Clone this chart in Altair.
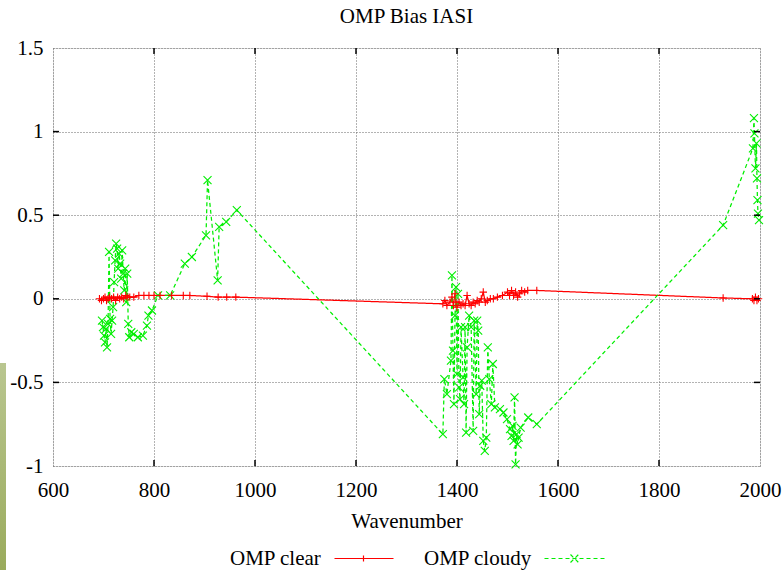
import altair as alt
import pandas as pd

# ---------------- data ----------------
clear_wn = [692, 696, 700, 703, 706, 709, 712, 716, 720, 724, 728, 732, 736, 740, 744, 748,
            752, 760, 770, 780, 790, 800, 812, 835, 858, 871, 905, 927, 944, 962,
            1372, 1376, 1380, 1386, 1390, 1393, 1396, 1398, 1400, 1404, 1408, 1412, 1416,
            1420, 1424, 1428, 1432, 1436, 1440, 1444, 1448, 1452, 1456, 1460, 1466, 1472,
            1480, 1490, 1500, 1504, 1508, 1512, 1516, 1520, 1524, 1528, 1534, 1540, 1558,
            1927, 1985, 1988, 1991, 1994, 1997]
clear_val = [0.00, -0.01, 0.00, 0.01, -0.01, 0.00, 0.01, 0.00, 0.01, -0.01, 0.01, 0.00, 0.01,
             0.00, 0.02, 0.01, 0.01, 0.01, 0.02, 0.02, 0.02, 0.02, 0.02, 0.02, 0.02, 0.02,
             0.015, 0.01, 0.01, 0.01,
             -0.03, -0.01, -0.04, -0.02, 0.01, -0.04, 0.03, -0.02, -0.05, -0.02, -0.04, -0.03,
             -0.04, 0.02, -0.03, -0.04, -0.02, -0.03, -0.01, -0.02, 0.00, 0.04, -0.02, -0.01,
             0.00, 0.00, 0.01, 0.02, 0.04, 0.02, 0.05, 0.02, 0.04, 0.01, 0.03, 0.05, 0.04,
             0.05, 0.05,
             0.005, 0.00, -0.01, 0.01, -0.01, 0.00]

cloudy_wn = [697, 699, 701, 703, 705, 707, 709, 711, 713, 715, 717, 719, 721, 723, 725, 727,
             729, 731, 733, 735, 737, 739, 741, 743, 745, 747, 749, 751, 755, 760, 768, 778,
             786, 789, 796, 808, 832, 861, 875, 903, 906, 926, 929, 943, 964,
             1372, 1375, 1380, 1388, 1390, 1392, 1394, 1396, 1398, 1400, 1402, 1404, 1406,
             1408, 1412, 1414, 1416, 1418, 1420, 1424, 1428, 1432, 1434, 1438, 1440, 1442,
             1444, 1446, 1449, 1452, 1455, 1458, 1461, 1464, 1468, 1471, 1475, 1485, 1492,
             1499, 1505, 1508, 1510, 1512, 1514, 1516, 1518, 1520, 1522, 1526, 1541, 1558,
             1927, 1986, 1988, 1989, 1991, 1993, 1994, 1995, 1996, 1998]
cloudy_val = [-0.13, -0.17, -0.22, -0.26, -0.18, -0.29, -0.15, 0.28, -0.12, -0.21, -0.13,
              -0.05, 0.10, 0.23, 0.33, 0.30, 0.18, 0.27, 0.21, 0.12, 0.29, 0.15, 0.05, 0.18,
              -0.02, 0.15, -0.15, -0.23, -0.20, -0.21, -0.23, -0.22, -0.16, -0.10, -0.07,
              0.02, 0.02, 0.21, 0.25, 0.38, 0.71, 0.11, 0.43, 0.46, 0.53,
              -0.81, -0.48, -0.57, -0.37, 0.14, -0.31, -0.63, -0.10, 0.07, -0.45, 0.03,
              -0.53, -0.60, -0.17, -0.47, -0.63, -0.17, -0.80, -0.29, -0.10, -0.17, -0.79,
              -0.13, -0.57, -0.13, -0.19, -0.69, -0.52, -0.49, -0.85, -0.91, -0.83, -0.29,
              -0.48, -0.63, -0.39, -0.65, -0.66, -0.68, -0.72, -0.78, -0.82, -0.76, -0.85,
              -0.59, -0.99, -0.81, -0.87, -0.83, -0.77, -0.71, -0.75,
              0.44, 0.90, 1.08, 0.99, 0.78, 0.93, 0.72, 0.59, 0.51, 0.47]

x_ticks = [600, 800, 1000, 1200, 1400, 1600, 1800, 2000]
y_ticks = [-1, -0.5, 0, 0.5, 1, 1.5]
series_names = ["OMP clear", "OMP cloudy"]
series_colors = ["#ff0000", "#00ee00"]
series_dashes = [[1, 0], [4, 3]]

# ---------------- build tables ----------------
df = pd.concat([
    pd.DataFrame({"wn": clear_wn, "val": clear_val, "series": series_names[0]}),
    pd.DataFrame({"wn": cloudy_wn, "val": cloudy_val, "series": series_names[1]}),
], ignore_index=True)
xtick_df = pd.DataFrame({"wn": x_ticks[1:-1]})
ytick_df = pd.DataFrame({"val": y_ticks[1:-1]})

W, H = 707, 418
FONT = "Liberation Serif"
FS = 21
TICK = 6

plus_path = "M-1,0L1,0M0,-1L0,1"
cross_path = "M-1,-1L1,1M-1,1L1,-1"

# legend samples drawn to the right of their labels (gnuplot style: text, then sample)
legend_common = dict(title=None, orient="none", direction="vertical", padding=0,
                     labelFont=FONT, labelFontSize=FS, labelColor="black",
                     labelOffset=0, symbolSize=4, symbolStrokeWidth=1.2,
                     symbolFillColor="transparent", symbolOpacity=1, legendY=500)
legend_clear = alt.Legend(values=[series_names[0]], legendX=156,
                          symbolType="M115,0L174,0M144,-3L144,3",
                          symbolStrokeColor=series_colors[0], symbolDash=[1, 0],
                          **legend_common)
legend_cloudy = alt.Legend(values=[series_names[1]], legendX=350,
                           symbolType="M131,0L191,0M157,-4L165,4M157,4L165,-4",
                           symbolStrokeColor=series_colors[1],
                           **legend_common)

color = alt.Color("series:N", scale=alt.Scale(domain=series_names, range=series_colors),
                  legend=legend_clear)
dash = alt.StrokeDash("series:N",
                      scale=alt.Scale(domain=series_names[::-1], range=series_dashes[::-1]),
                      legend=legend_cloudy)

xenc = alt.X("wn:Q", title="Wavenumber",
             scale=alt.Scale(domain=[600, 2000], nice=False, zero=False),
             axis=alt.Axis(values=x_ticks, format="d", labelFont=FONT, labelFontSize=FS,
                           labelColor="black", labelPadding=13, ticks=False, tickSize=0,
                           domain=False, grid=True, gridColor="#666", gridDash=[1, 2],
                           gridWidth=1, titleFont=FONT, titleFontSize=FS,
                           titleFontWeight="normal", titleColor="black", titlePadding=10,
                           labelFlush=False))
yenc = alt.Y("val:Q", title=None,
             scale=alt.Scale(domain=[-1, 1.5], nice=False, zero=False),
             axis=alt.Axis(values=y_ticks, labelExpr="'' + datum.value", labelFont=FONT,
                           labelFontSize=FS, labelColor="black", labelPadding=10,
                           ticks=False, tickSize=0, domain=False, grid=True,
                           gridColor="#666", gridDash=[1, 2], gridWidth=1,
                           labelFlush=False))

base = alt.Chart(df)
lines = base.mark_line(strokeWidth=1.25).encode(
    x=xenc, y=yenc, color=color, strokeDash=dash, detail="series:N")
clear_pts = base.transform_filter(alt.datum.series == series_names[0]).mark_point(
    shape=plus_path, size=56, filled=False, strokeWidth=1.1, opacity=1).encode(
    x=xenc, y=yenc, color=color)
cloudy_pts = base.transform_filter(alt.datum.series == series_names[1]).mark_point(
    shape=cross_path, size=64, filled=False, strokeWidth=1.1, opacity=1).encode(
    x=xenc, y=yenc, color=color)

xt_bottom = alt.Chart(xtick_df).mark_rule(color="black", strokeWidth=1.5).encode(
    x=xenc, y=alt.value(H), y2=alt.value(H - TICK))
xt_top = alt.Chart(xtick_df).mark_rule(color="black", strokeWidth=1.5).encode(
    x=xenc, y=alt.value(0), y2=alt.value(TICK))
yt_left = alt.Chart(ytick_df).mark_rule(color="black", strokeWidth=1.5).encode(
    y=yenc, x=alt.value(0), x2=alt.value(TICK))
yt_right = alt.Chart(ytick_df).mark_rule(color="black", strokeWidth=1.5).encode(
    y=yenc, x=alt.value(W), x2=alt.value(W - TICK))

strip = alt.Chart(pd.DataFrame({"k": [0]})).mark_rect(
    color=alt.Gradient(gradient="linear", x1=0, x2=0, y1=0, y2=1,
                       stops=[alt.GradientStop(color="#b9c690", offset=0),
                              alt.GradientStop(color="#9aab5c", offset=1)])
).encode(x=alt.value(-53), x2=alt.value(-47), y=alt.value(315), y2=alt.value(H + 104))

chart = alt.layer(
    strip, lines, cloudy_pts, clear_pts,
    xt_bottom, xt_top, yt_left, yt_right,
).properties(
    width=W, height=H,
    title=alt.TitleParams("OMP Bias IASI", font=FONT, fontSize=FS, fontWeight="normal",
                          color="black", anchor="middle", frame="group", offset=10),
    autosize=alt.AutoSizeParams(type="none"),
    padding={"left": 53, "top": 48, "right": 24, "bottom": 104},
).configure_view(
    stroke="black", strokeWidth=2
).configure(background="white")

chart.save("out.html", embed_options={"renderer": "svg", "actions": False})
